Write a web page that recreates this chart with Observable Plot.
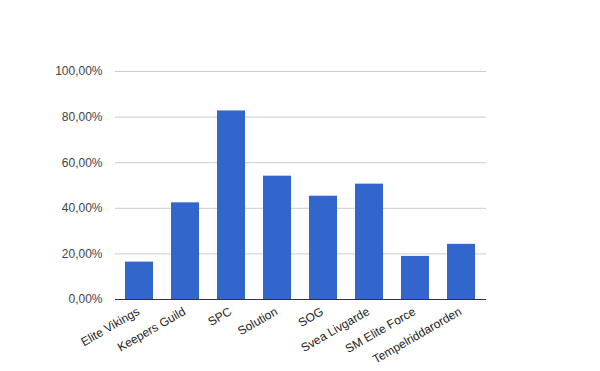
<!DOCTYPE html>
<html>
<head>
<meta charset="utf-8">
<script src="https://cdn.jsdelivr.net/npm/d3@7"></script>
<script src="https://cdn.jsdelivr.net/npm/@observablehq/plot@0.6"></script>
<style>
  html, body { margin: 0; padding: 0; background: #fff; }
  #chart svg { display: block; }
</style>
</head>
<body>
<div id="chart"></div>
<script>
const categories = ["Elite Vikings", "Keepers Guild", "SPC", "Solution", "SOG", "Svea Livgarde", "SM Elite Force", "Tempelriddarorden"];
const values = [16.4, 42.4, 82.7, 54.1, 45.3, 50.6, 18.9, 24.2];
const yTicks = [0, 20, 40, 60, 80, 100];

const data = categories.map((c, i) => ({category: c, value: values[i]}));
const fmt = d => d.toFixed(2).replace(".", ",") + "%";

const chart = Plot.plot({
  width: 600,
  height: 371,
  marginLeft: 115,
  marginRight: 114,
  marginTop: 71,
  marginBottom: 72,
  style: {fontFamily: "Arial, 'Liberation Sans', sans-serif", fontSize: "12px", background: "#fff"},
  x: {domain: categories, paddingInner: 0.39, paddingOuter: 0.195, label: null},
  y: {domain: [0, 100], label: null},
  marks: [
    Plot.ruleY(yTicks.filter(d => d > 0), {stroke: "#cccccc", strokeWidth: 1}),
    Plot.barY(data, {x: "category", y: "value", fill: "#3366cc"}),
    Plot.ruleY([0], {stroke: "#333333", strokeWidth: 1}),
    Plot.axisY({ticks: yTicks, tickFormat: fmt, tickSize: 0, tickPadding: 13, label: null, fill: "#444444", fontSize: 12}),
    Plot.axisX({tickRotate: -30, tickSize: 0, tickPadding: 6, dx: -1, dy: 5, label: null, fill: "#222222", fontSize: 12})
  ]
});
document.getElementById("chart").appendChild(chart);
</script>
</body>
</html>
